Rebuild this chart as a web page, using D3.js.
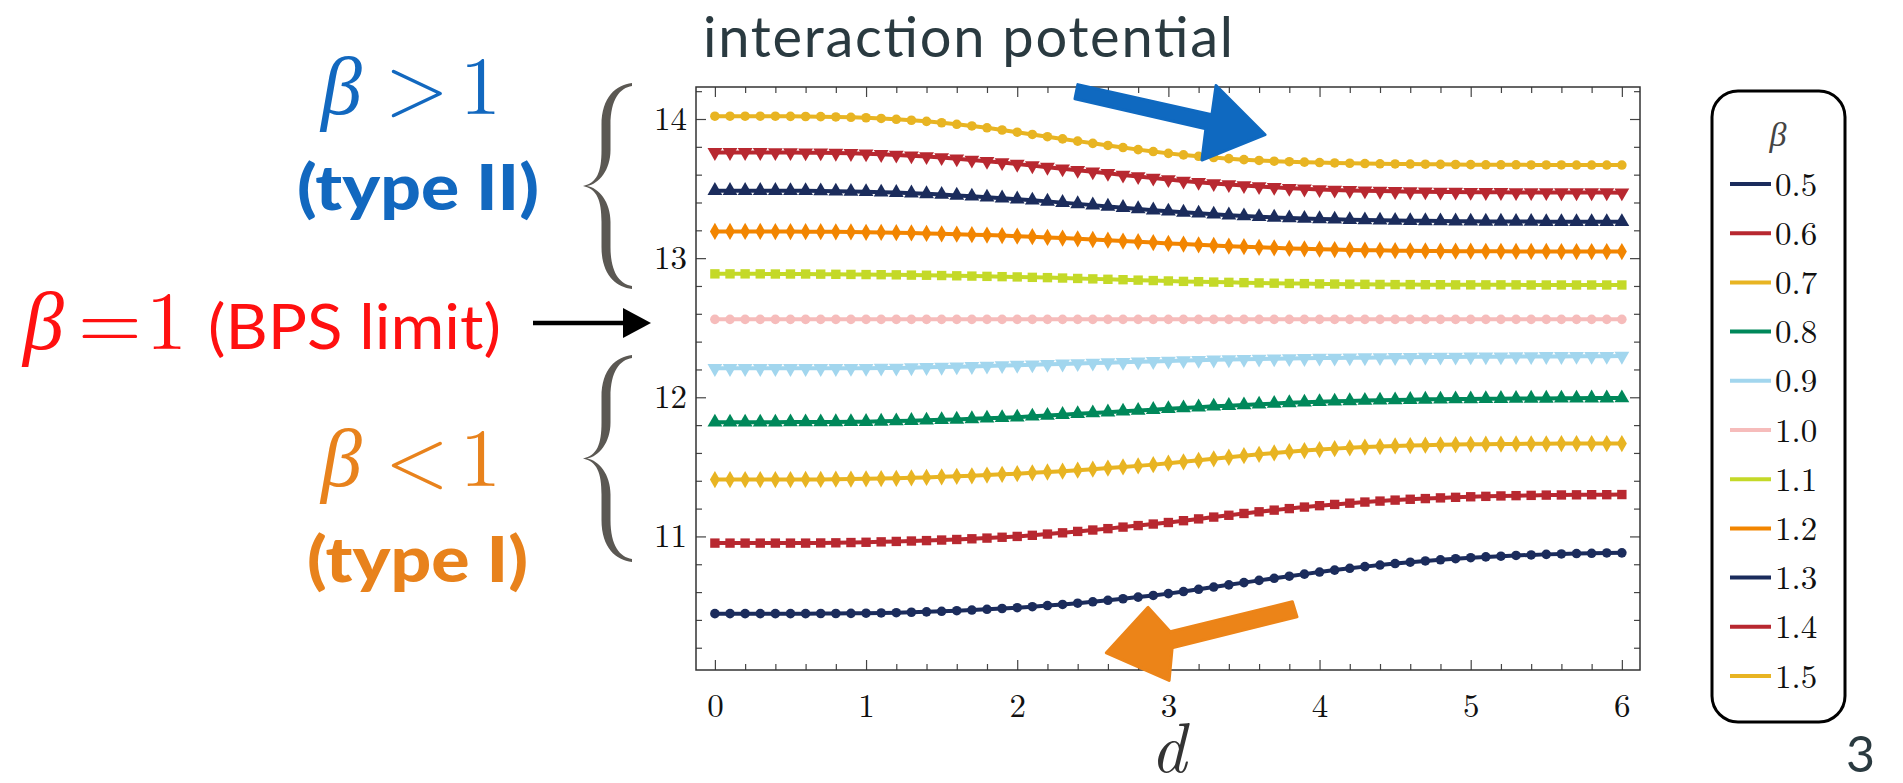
<!DOCTYPE html>
<html>
<head>
<meta charset="utf-8">
<script src="https://cdn.jsdelivr.net/npm/d3@7"></script>
<style>
body { margin: 0; background: #fff; }
svg { display: block; }
</style>
</head>
<body>
<svg id="chart" width="1903" height="783"></svg>
<script>
// ---- data ----
var dValues = [0.0, 0.1, 0.2, 0.3, 0.4, 0.5, 0.6, 0.7, 0.8, 0.9,
               1.0, 1.1, 1.2, 1.3, 1.4, 1.5, 1.6, 1.7, 1.8, 1.9,
               2.0, 2.1, 2.2, 2.3, 2.4, 2.5, 2.6, 2.7, 2.8, 2.9,
               3.0, 3.1, 3.2, 3.3, 3.4, 3.5, 3.6, 3.7, 3.8, 3.9,
               4.0, 4.1, 4.2, 4.3, 4.4, 4.5, 4.6, 4.7, 4.8, 4.9,
               5.0, 5.1, 5.2, 5.3, 5.4, 5.5, 5.6, 5.7, 5.8, 5.9,
               6.0];

var betaLabels = ["0.5", "0.6", "0.7", "0.8", "0.9", "1.0", "1.1", "1.2", "1.3", "1.4", "1.5"];

var v05 = [10.445, 10.445, 10.445, 10.445, 10.445, 10.445, 10.445, 10.446, 10.446, 10.447,
           10.448, 10.450, 10.452, 10.455, 10.458, 10.462, 10.466, 10.471, 10.476, 10.482,
           10.488, 10.495, 10.503, 10.511, 10.520, 10.530, 10.541, 10.552, 10.564, 10.576,
           10.589, 10.604, 10.620, 10.636, 10.652, 10.668, 10.684, 10.699, 10.714, 10.729,
           10.744, 10.758, 10.771, 10.783, 10.794, 10.805, 10.815, 10.824, 10.832, 10.840,
           10.847, 10.853, 10.858, 10.863, 10.867, 10.871, 10.874, 10.877, 10.879, 10.881,
           10.882];
var v06 = [10.952, 10.952, 10.952, 10.952, 10.952, 10.952, 10.952, 10.953, 10.954, 10.956,
           10.958, 10.961, 10.964, 10.967, 10.970, 10.974, 10.978, 10.983, 10.988, 10.994,
           11.000, 11.008, 11.017, 11.026, 11.036, 11.046, 11.056, 11.067, 11.078, 11.089,
           11.100, 11.113, 11.126, 11.139, 11.152, 11.165, 11.177, 11.189, 11.200, 11.211,
           11.221, 11.230, 11.239, 11.247, 11.254, 11.261, 11.267, 11.272, 11.277, 11.281,
           11.285, 11.288, 11.291, 11.293, 11.295, 11.297, 11.298, 11.299, 11.300, 11.300,
           11.301];
var v07 = [11.409, 11.409, 11.409, 11.409, 11.409, 11.409, 11.410, 11.410, 11.411, 11.412,
           11.414, 11.416, 11.418, 11.421, 11.424, 11.428, 11.432, 11.436, 11.441, 11.446,
           11.451, 11.457, 11.463, 11.469, 11.476, 11.483, 11.491, 11.499, 11.507, 11.516,
           11.526, 11.536, 11.547, 11.558, 11.569, 11.580, 11.590, 11.600, 11.609, 11.617,
           11.624, 11.631, 11.637, 11.642, 11.646, 11.650, 11.653, 11.656, 11.658, 11.660,
           11.662, 11.663, 11.664, 11.665, 11.666, 11.666, 11.667, 11.667, 11.667, 11.667,
           11.667];
var v08 = [11.821, 11.821, 11.821, 11.821, 11.821, 11.822, 11.822, 11.822, 11.823, 11.824,
           11.825, 11.827, 11.829, 11.832, 11.835, 11.838, 11.841, 11.845, 11.849, 11.853,
           11.857, 11.863, 11.869, 11.875, 11.881, 11.887, 11.893, 11.899, 11.905, 11.911,
           11.917, 11.923, 11.929, 11.935, 11.940, 11.945, 11.950, 11.955, 11.960, 11.964,
           11.968, 11.971, 11.974, 11.977, 11.979, 11.981, 11.983, 11.985, 11.986, 11.987,
           11.988, 11.989, 11.990, 11.991, 11.992, 11.992, 11.993, 11.993, 11.994, 11.994,
           11.995];
var v09 = [12.208, 12.208, 12.208, 12.208, 12.208, 12.208, 12.208, 12.208, 12.208, 12.209,
           12.209, 12.210, 12.211, 12.213, 12.215, 12.217, 12.219, 12.222, 12.225, 12.228,
           12.231, 12.234, 12.237, 12.240, 12.243, 12.246, 12.249, 12.252, 12.255, 12.258,
           12.261, 12.264, 12.266, 12.269, 12.271, 12.273, 12.275, 12.277, 12.279, 12.280,
           12.282, 12.283, 12.284, 12.285, 12.286, 12.287, 12.288, 12.289, 12.290, 12.290,
           12.291, 12.292, 12.292, 12.293, 12.293, 12.294, 12.294, 12.295, 12.295, 12.295,
           12.296];
var v10 = [12.560, 12.560, 12.560, 12.560, 12.560, 12.560, 12.560, 12.560, 12.560, 12.560,
           12.560, 12.560, 12.560, 12.560, 12.560, 12.560, 12.560, 12.560, 12.560, 12.560,
           12.560, 12.560, 12.560, 12.560, 12.560, 12.560, 12.560, 12.560, 12.560, 12.560,
           12.560, 12.560, 12.560, 12.560, 12.560, 12.560, 12.560, 12.560, 12.560, 12.560,
           12.560, 12.560, 12.560, 12.560, 12.560, 12.560, 12.560, 12.560, 12.560, 12.560,
           12.560, 12.560, 12.560, 12.560, 12.560, 12.560, 12.560, 12.560, 12.560, 12.560,
           12.560];
var v11 = [12.887, 12.887, 12.887, 12.887, 12.886, 12.886, 12.886, 12.885, 12.884, 12.883,
           12.882, 12.881, 12.880, 12.878, 12.877, 12.875, 12.873, 12.871, 12.869, 12.867,
           12.865, 12.862, 12.860, 12.857, 12.854, 12.851, 12.848, 12.845, 12.842, 12.839,
           12.836, 12.833, 12.831, 12.828, 12.826, 12.824, 12.822, 12.820, 12.818, 12.817,
           12.815, 12.814, 12.813, 12.812, 12.811, 12.810, 12.810, 12.809, 12.809, 12.808,
           12.808, 12.808, 12.808, 12.808, 12.807, 12.807, 12.807, 12.807, 12.807, 12.807,
           12.807];
var v12 = [13.192, 13.192, 13.192, 13.192, 13.191, 13.191, 13.190, 13.190, 13.189, 13.188,
           13.186, 13.185, 13.183, 13.181, 13.178, 13.175, 13.172, 13.169, 13.166, 13.162,
           13.158, 13.154, 13.149, 13.144, 13.139, 13.134, 13.129, 13.123, 13.118, 13.112,
           13.106, 13.101, 13.096, 13.091, 13.086, 13.082, 13.078, 13.074, 13.070, 13.067,
           13.064, 13.062, 13.059, 13.057, 13.056, 13.054, 13.053, 13.052, 13.051, 13.050,
           13.050, 13.049, 13.049, 13.048, 13.048, 13.048, 13.047, 13.047, 13.047, 13.047,
           13.047];
var v13 = [13.485, 13.485, 13.485, 13.485, 13.485, 13.484, 13.484, 13.483, 13.481, 13.479,
           13.477, 13.474, 13.471, 13.467, 13.462, 13.457, 13.451, 13.445, 13.438, 13.431,
           13.424, 13.416, 13.408, 13.399, 13.390, 13.381, 13.372, 13.363, 13.354, 13.345,
           13.337, 13.329, 13.322, 13.315, 13.309, 13.303, 13.298, 13.293, 13.289, 13.285,
           13.282, 13.279, 13.276, 13.274, 13.272, 13.270, 13.269, 13.268, 13.267, 13.266,
           13.265, 13.264, 13.264, 13.263, 13.263, 13.262, 13.262, 13.262, 13.261, 13.261,
           13.261];
var v14 = [13.760, 13.760, 13.760, 13.760, 13.759, 13.759, 13.758, 13.757, 13.755, 13.753,
           13.750, 13.746, 13.741, 13.736, 13.730, 13.723, 13.715, 13.706, 13.697, 13.687,
           13.676, 13.665, 13.654, 13.643, 13.632, 13.621, 13.610, 13.598, 13.587, 13.576,
           13.565, 13.555, 13.546, 13.537, 13.529, 13.522, 13.515, 13.509, 13.503, 13.498,
           13.494, 13.490, 13.487, 13.484, 13.482, 13.480, 13.478, 13.477, 13.476, 13.475,
           13.474, 13.473, 13.473, 13.472, 13.472, 13.472, 13.471, 13.471, 13.471, 13.471,
           13.470];
var v15 = [14.020, 14.020, 14.020, 14.020, 14.020, 14.019, 14.018, 14.017, 14.015, 14.012,
           14.009, 14.004, 13.998, 13.991, 13.983, 13.973, 13.962, 13.950, 13.937, 13.921,
           13.905, 13.889, 13.873, 13.857, 13.841, 13.825, 13.810, 13.795, 13.780, 13.766,
           13.753, 13.742, 13.732, 13.723, 13.715, 13.708, 13.702, 13.697, 13.693, 13.690,
           13.687, 13.684, 13.682, 13.680, 13.678, 13.677, 13.676, 13.675, 13.674, 13.673,
           13.672, 13.671, 13.671, 13.671, 13.670, 13.670, 13.670, 13.669, 13.669, 13.669,
           13.669];

var seriesValues = [v05, v06, v07, v08, v09, v10, v11, v12, v13, v14, v15];

var xTicks = [0, 1, 2, 3, 4, 5, 6];
var yTicks = [11, 12, 13, 14];

// hand-drawn arrows, in data units (d, potential)
var blueArrow = [[2.401, 14.247], [3.288, 14.031], [3.315, 14.240], [3.640, 13.887],
                 [3.222, 13.705], [3.248, 13.930], [2.382, 14.146]];
var orangeArrow = [[3.820, 10.530], [3.012, 10.315], [2.866, 10.490], [2.590, 10.163],
                   [3.005, 9.965], [3.025, 10.199], [3.851, 10.422]];

// ---- styles ----
var navy = "#1b2c5c", red = "#b82830", gold = "#e8b422", green = "#00885a",
    lightBlue = "#a2d6ee", pink = "#f6bcbb", lime = "#c4d928", orange = "#f28500";
var lineColors = [navy, red, gold, green, lightBlue, pink, lime, orange, navy, red, gold];
var shapeCycle = ["circle", "square", "diamond", "up", "down"];

var serif = "'Latin Modern Roman','CMU Serif','Liberation Serif','Times New Roman',serif";
var sans = "Lato,'Open Sans','Noto Sans',sans-serif";
var blueText = "#1268bf", redText = "#ff1010", orangeText = "#e8821c", slate = "#2a3a40";

var svg = d3.select("#chart");
svg.append("rect").attr("width", 1903).attr("height", 783).attr("fill", "#fff");

var plotL = 696, plotR = 1640, plotT = 87, plotB = 670;

var x = d3.scaleLinear().domain([-0.125, 6.12]).range([plotL, plotR]);
var y = d3.scaleLinear().domain([10.04, 14.23]).range([plotB, plotT]);

var xMinor = d3.range(0, 31).filter(function(i) { return i % 5 != 0; }).map(function(i) { return i * 0.2; });
var yMinor = d3.range(51, 72).filter(function(i) { return i % 5 != 0; }).map(function(i) { return i * 0.2; });

function styleAxis(g) {
    g.select(".domain").remove();
    g.selectAll("line").attr("stroke", "#444").attr("stroke-width", 1.2);
    g.selectAll("text").attr("font-family", serif).attr("font-size", 33).attr("fill", "#111");
}

// major + minor ticks on all four sides, pointing inward
svg.append("g").attr("transform", "translate(0," + plotB + ")")
    .call(d3.axisBottom(x).tickValues(xTicks).tickSize(-10).tickPadding(24).tickFormat(d3.format("d")))
    .call(styleAxis);
svg.append("g").attr("transform", "translate(0," + plotB + ")")
    .call(d3.axisBottom(x).tickValues(xMinor).tickSize(-6).tickFormat(""))
    .call(styleAxis);
svg.append("g").attr("transform", "translate(0," + plotT + ")")
    .call(d3.axisTop(x).tickValues(xTicks).tickSize(-10).tickFormat(""))
    .call(styleAxis);
svg.append("g").attr("transform", "translate(0," + plotT + ")")
    .call(d3.axisTop(x).tickValues(xMinor).tickSize(-6).tickFormat(""))
    .call(styleAxis);
svg.append("g").attr("transform", "translate(" + plotL + ",0)")
    .call(d3.axisLeft(y).tickValues(yTicks).tickSize(-10).tickPadding(9).tickFormat(d3.format("d")))
    .call(styleAxis);
svg.append("g").attr("transform", "translate(" + plotL + ",0)")
    .call(d3.axisLeft(y).tickValues(yMinor).tickSize(-6).tickFormat(""))
    .call(styleAxis);
svg.append("g").attr("transform", "translate(" + plotR + ",0)")
    .call(d3.axisRight(y).tickValues(yTicks).tickSize(-10).tickFormat(""))
    .call(styleAxis);
svg.append("g").attr("transform", "translate(" + plotR + ",0)")
    .call(d3.axisRight(y).tickValues(yMinor).tickSize(-6).tickFormat(""))
    .call(styleAxis);

svg.append("rect")
    .attr("x", plotL).attr("y", plotT)
    .attr("width", plotR - plotL).attr("height", plotB - plotT)
    .attr("fill", "none").attr("stroke", "#333").attr("stroke-width", 1.5);

// ---- curves ----
var line = d3.line()
    .x(function(d, i) { return x(dValues[i]); })
    .y(function(d) { return y(d); });

function markerPath(shape) {
    if (shape == "circle") return d3.symbol().type(d3.symbolCircle).size(72)();
    if (shape == "square") return d3.symbol().type(d3.symbolSquare).size(88)();
    if (shape == "diamond") return d3.symbol().type(d3.symbolDiamond).size(86)();
    return d3.symbol().type(d3.symbolTriangle).size(95)();
}

seriesValues.forEach(function(vals, k) {
    var g = svg.append("g").attr("class", "series");
    g.append("path")
        .attr("d", line(vals))
        .attr("fill", "none")
        .attr("stroke", lineColors[k])
        .attr("stroke-width", 4)
        .attr("stroke-linejoin", "round");
    var shape = shapeCycle[k % 5];
    g.selectAll(".pt").data(vals).enter().append("path")
        .attr("class", "pt")
        .attr("d", markerPath(shape))
        .attr("fill", lineColors[k])
        .attr("transform", function(d, i) {
            return "translate(" + x(dValues[i]) + "," + y(d) + ")" + (shape == "down" ? " rotate(180)" : "");
        });
});

// hand-drawn arrows
var arrowLine = d3.line().x(function(d) { return x(d[0]); }).y(function(d) { return y(d[1]); });
svg.append("path").attr("d", arrowLine(blueArrow) + "Z")
    .attr("fill", "#0f69c0").attr("stroke", "#0f69c0").attr("stroke-width", 3).attr("stroke-linejoin", "round");
svg.append("path").attr("d", arrowLine(orangeArrow) + "Z")
    .attr("fill", "#ec8418").attr("stroke", "#ec8418").attr("stroke-width", 3).attr("stroke-linejoin", "round");

// ---- labels ----
svg.append("text")
    .attr("x", 703).attr("y", 57)
    .attr("font-family", sans).attr("font-size", 56).attr("fill", slate)
    .attr("textLength", 530).attr("lengthAdjust", "spacing")
    .text("interaction potential");

svg.append("text")
    .attr("x", x(3)).attr("y", 772)
    .attr("text-anchor", "middle")
    .attr("font-family", serif).attr("font-style", "italic").attr("font-size", 70).attr("fill", "#333")
    .text("d");

svg.append("text")
    .attr("x", 1846).attr("y", 772)
    .attr("font-family", sans).attr("font-size", 50).attr("fill", slate)
    .text("3");

// ---- legend ----
var legend = svg.append("g");
legend.append("rect")
    .attr("x", 1712).attr("y", 91).attr("width", 133).attr("height", 631)
    .attr("rx", 26).attr("ry", 26)
    .attr("fill", "#fff").attr("stroke", "#000").attr("stroke-width", 3);
legend.append("text")
    .attr("x", 1778).attr("y", 146).attr("text-anchor", "middle")
    .attr("font-family", serif).attr("font-style", "italic").attr("font-size", 34).attr("fill", "#444")
    .text("β");
betaLabels.forEach(function(b, k) {
    var yy = 184 + k * 49.2;
    legend.append("line")
        .attr("x1", 1730).attr("x2", 1771).attr("y1", yy).attr("y2", yy)
        .attr("stroke", lineColors[k]).attr("stroke-width", 4);
    legend.append("text")
        .attr("x", 1775).attr("y", yy).attr("dy", "0.35em")
        .attr("font-family", serif).attr("font-size", 33).attr("fill", "#111")
        .text(b);
});

// ---- left annotations ----
// beta, relation sign and "1" set as three pieces, like the typeset math
function mathLabel(bx, relX, oneX, py, rel, color) {
    var g = svg.append("g")
        .attr("font-family", serif).attr("font-size", 82).attr("fill", color);
    g.append("text").attr("x", bx).attr("y", py).attr("font-style", "italic").text("β");
    g.append("text").attr("x", relX).attr("y", py).attr("text-anchor", "middle").text(rel);
    g.append("text").attr("x", oneX).attr("y", py).attr("text-anchor", "end").text("1");
}
function sansLabel(px, py, txt, color, weight, len) {
    svg.append("text")
        .attr("x", px).attr("y", py)
        .attr("font-family", sans).attr("font-weight", weight).attr("font-size", 62).attr("fill", color)
        .attr("textLength", len).attr("lengthAdjust", "spacingAndGlyphs")
        .text(txt);
}

mathLabel(321, 417, 501, 114, ">", blueText);
sansLabel(297, 210, "(type II)", blueText, 900, 242);
mathLabel(23, 110, 187, 349, "=", redText);
sansLabel(208, 349, "(BPS limit)", redText, 400, 293);
mathLabel(321, 417, 501, 486, "<", orangeText);
sansLabel(307, 582, "(type I)", orangeText, 900, 221);

// black arrow to the BPS line
svg.append("line")
    .attr("x1", 533).attr("x2", 628).attr("y1", 323).attr("y2", 323)
    .attr("stroke", "#000").attr("stroke-width", 4.5);
svg.append("path")
    .attr("d", "M623,308 L651,323 L623,338 Z")
    .attr("fill", "#000");

// curly braces
function bracePath(tipX, endX, y0, y1) {
    var m = (y0 + y1) / 2, s = tipX + 23, h = 4.5;
    return "M" + endX + "," + y0 +
        " C" + (endX - 16) + "," + (y0 + 2) + " " + (s - h) + "," + (y0 + 14) + " " + (s - h) + "," + (y0 + 42) +
        " L" + (s - h) + "," + (m - 36) +
        " C" + (s - h) + "," + (m - 14) + " " + (tipX + 14) + "," + (m - 3) + " " + tipX + "," + m +
        " C" + (tipX + 14) + "," + (m + 3) + " " + (s - h) + "," + (m + 14) + " " + (s - h) + "," + (m + 36) +
        " L" + (s - h) + "," + (y1 - 42) +
        " C" + (s - h) + "," + (y1 - 14) + " " + (endX - 16) + "," + (y1 - 2) + " " + endX + "," + y1 +
        " L" + endX + "," + (y1 - 3) +
        " C" + (endX - 12) + "," + (y1 - 5) + " " + (s + h) + "," + (y1 - 16) + " " + (s + h) + "," + (y1 - 42) +
        " L" + (s + h) + "," + (m + 36) +
        " C" + (s + h) + "," + (m + 16) + " " + (tipX + 16) + "," + (m + 2) + " " + (tipX + 4) + "," + m +
        " C" + (tipX + 16) + "," + (m - 2) + " " + (s + h) + "," + (m - 16) + " " + (s + h) + "," + (m - 36) +
        " L" + (s + h) + "," + (y0 + 42) +
        " C" + (s + h) + "," + (y0 + 16) + " " + (endX - 12) + "," + (y0 + 5) + " " + endX + "," + (y0 + 3) +
        " Z";
}
svg.append("path").attr("d", bracePath(583, 632, 83, 289)).attr("fill", "#5b5853");
svg.append("path").attr("d", bracePath(583, 632, 355, 562)).attr("fill", "#5b5853");
</script>
</body>
</html>
